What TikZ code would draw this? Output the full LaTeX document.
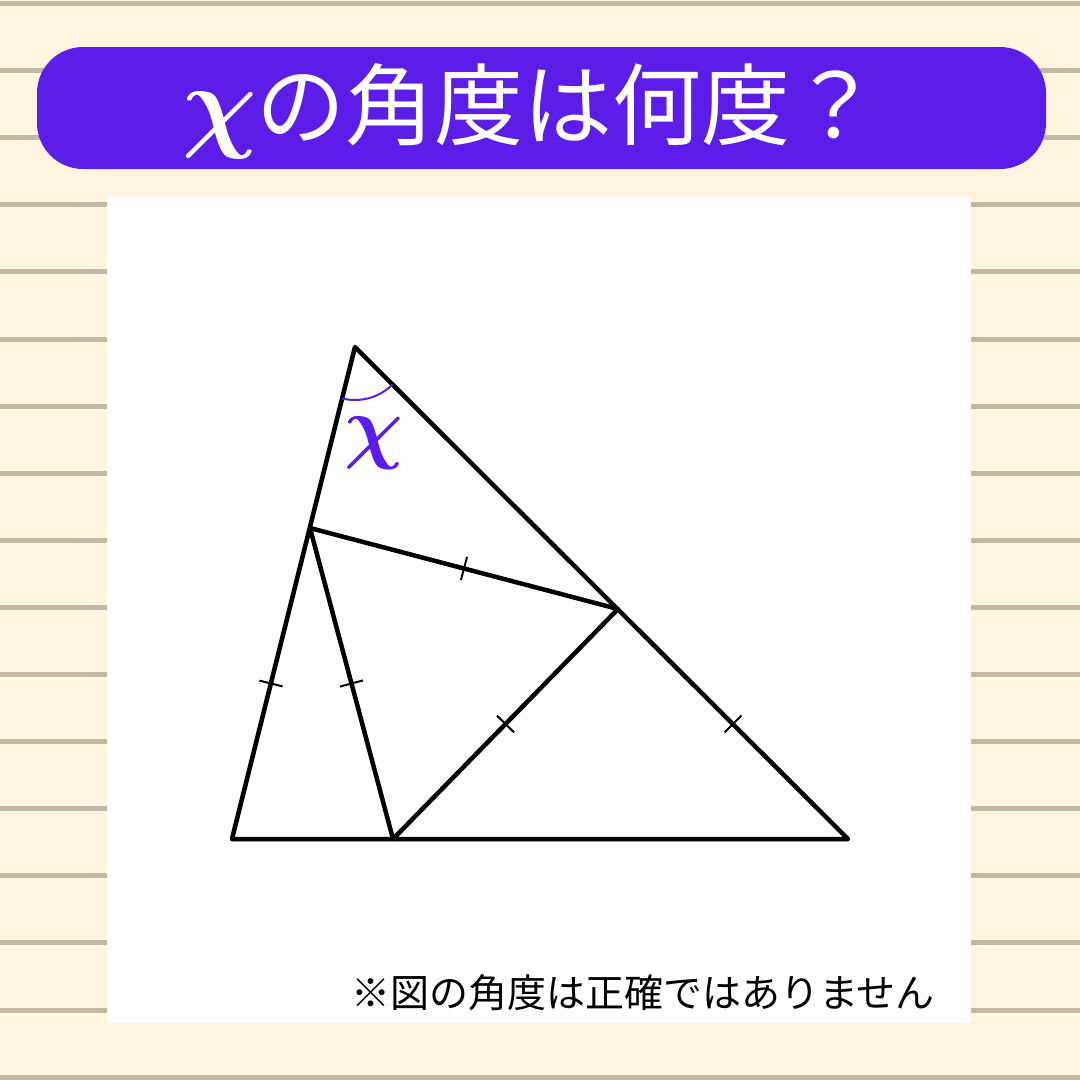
\RequirePackage{fix-cm}
\documentclass[tikz,border=0pt]{standalone}
\usepackage{bm}
\usepackage{fontspec}
\newfontfamily\cjk{Noto Sans CJK JP}
\usetikzlibrary{calc}
\definecolor{cream}{HTML}{FFF5E1}
\definecolor{stripe}{HTML}{C0B9A6}
\definecolor{violet}{HTML}{5B1DE8}
\tikzset{
  seg/.style={line width=4.5pt, line cap=round, line join=round},
  tickmk/.pic={\draw[line width=2pt] (0pt,-12pt) -- (0pt,12pt);},
  arcmk/.style={draw=violet, line width=2pt}
}
\newcommand{\bchi}{$\bm{\chi}$}
\begin{document}
\begin{tikzpicture}[x=1pt,y=-1pt]
\useasboundingbox (0,0) rectangle (1080,1080);
\fill[cream] (0,0) rectangle (1080,1080);
\foreach \k in {0,...,16} \fill[stripe] (0,{1.0+67.1*\k}) rectangle (1080,{6.0+67.1*\k});
\fill[white] (107,197) rectangle (971,1023);
\fill[violet, rounded corners=46pt] (37,47) rectangle (1046,169);
\node[text=white, inner sep=0pt, anchor=base west] (title) at (182,138) {{\fontsize{104}{104}\selectfont\bchi}\kern0pt{\cjk\fontsize{89}{89}\selectfont の角度は何度？}};
% geometry
\coordinate (A) at (355,347);
\coordinate (B) at (232,839);
\coordinate (C) at (848,839);
\coordinate (D) at (310,528);
\coordinate (E) at (618,609);
\coordinate (F) at (393,839);
\draw[seg] (A) -- (B) -- (C) -- cycle;
\draw[seg] (D) -- (E) -- (F) -- cycle;
% equal-length ticks
\path (B) -- (D) pic[midway, sloped]{tickmk};
\path (D) -- (F) pic[midway, sloped]{tickmk};
\path (D) -- (E) pic[midway, sloped]{tickmk};
\path (E) -- (F) pic[midway, sloped]{tickmk};
\path (E) -- (C) pic[midway, sloped]{tickmk};
% angle x
\draw[arcmk] ($(A)+(256:53pt)$) arc[start angle=256, end angle=315, radius=53pt];
\node[text=violet, inner sep=0pt] (xl) at (374,443) {\fontsize{82}{82}\selectfont\bchi};
\node[inner sep=0pt] (note) at (643,993) {\cjk\fontsize{39}{39}\selectfont ※図の角度は正確ではありません};
\end{tikzpicture}
\end{document}
